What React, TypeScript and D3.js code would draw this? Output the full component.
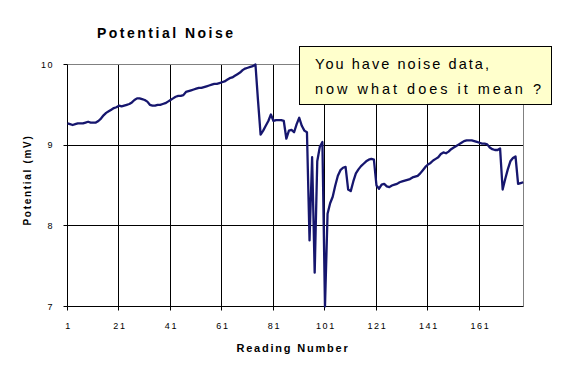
import React from "react";
import * as d3 from "d3";

const readings: number[] = d3.range(1, 179);
const potential: number[] = [
  9.27, 9.26, 9.25, 9.26, 9.27, 9.27, 9.27, 9.28, 9.29, 9.28,
  9.28, 9.28, 9.30, 9.33, 9.37, 9.40, 9.42, 9.44, 9.46, 9.47,
  9.49, 9.48, 9.49, 9.50, 9.51, 9.53, 9.56, 9.58, 9.58, 9.57,
  9.56, 9.54, 9.50, 9.49, 9.49, 9.50, 9.50, 9.51, 9.52, 9.54,
  9.56, 9.58, 9.60, 9.61, 9.61, 9.62, 9.66, 9.67, 9.68, 9.69,
  9.70, 9.71, 9.71, 9.72, 9.73, 9.74, 9.75, 9.76, 9.76, 9.77,
  9.78, 9.79, 9.81, 9.83, 9.84, 9.86, 9.88, 9.90, 9.93, 9.95,
  9.96, 9.97, 9.98, 10.0, 9.55, 9.13, 9.18, 9.24, 9.30, 9.38,
  9.30, 9.31, 9.31, 9.31, 9.30, 9.08, 9.18, 9.19, 9.16, 9.26,
  9.34, 9.24, 9.18, 9.16, 7.82, 8.85, 7.42, 8.80, 8.98, 9.04,
  7.0, 8.15, 8.28, 8.36, 8.50, 8.62, 8.69, 8.72, 8.73, 8.45,
  8.43, 8.55, 8.65, 8.70, 8.74, 8.77, 8.80, 8.82, 8.83, 8.82,
  8.50, 8.46, 8.51, 8.52, 8.49, 8.48, 8.50, 8.51, 8.52, 8.54,
  8.55, 8.56, 8.57, 8.58, 8.60, 8.61, 8.62, 8.65, 8.69, 8.73,
  8.76, 8.78, 8.81, 8.83, 8.85, 8.89, 8.91, 8.90, 8.92, 8.95,
  8.97, 8.99, 9.01, 9.03, 9.05, 9.06, 9.06, 9.06, 9.05, 9.04,
  9.03, 9.02, 9.02, 9.01, 8.97, 8.95, 8.94, 8.94, 8.96, 8.45,
  8.58, 8.70, 8.80, 8.84, 8.86, 8.52, 8.53, 8.54,
];
const xTicks: number[] = [1, 21, 41, 61, 81, 101, 121, 141, 161];
const yTicks: number[] = [7, 8, 9, 10];
const title = "Potential Noise";
const xTitle = "Reading Number";
const yTitle = "Potential (mV)";
const noteLines: string[] = ["You have noise data,", "now what does it mean ?"];
const noteWidths: number[] = [174, 226];

export default function App() {
  const left = 67.5, right = 523.5, top = 64.5, bottom = 306.5;
  const x = d3.scaleLinear().domain([1, 178.1]).range([left, right]);
  const y = d3.scaleLinear().domain([7, 10]).range([bottom, top]);
  const line = d3
    .line<number>()
    .x((_, i) => x(readings[i]))
    .y((d) => y(d));
  const font = "'Liberation Sans', Arial, sans-serif";
  const px = (v: number) => Math.round(v - 0.5) + 0.5;

  return (
    <svg
      width={564}
      height={380}
      style={{ position: "absolute", left: 0, top: 0, background: "#fff" }}
      fontFamily={font}
    >
      <rect x={0} y={0} width={564} height={380} fill="#fff" />
      {/* grid */}
      {xTicks.slice(1).map((t) => (
        <line key={"gx" + t} x1={px(x(t))} x2={px(x(t))} y1={top} y2={bottom} stroke="#000" strokeWidth={1} />
      ))}
      {yTicks.slice(1, -1).map((t) => (
        <line key={"gy" + t} x1={left} x2={right} y1={px(y(t))} y2={px(y(t))} stroke="#000" strokeWidth={1} />
      ))}
      {/* frame */}
      <line x1={left} x2={right} y1={top} y2={top} stroke="#808080" />
      <line x1={right} x2={right} y1={top} y2={bottom} stroke="#808080" />
      {/* axes */}
      <line x1={left} x2={left} y1={top} y2={bottom} stroke="#000" />
      <line x1={left} x2={right} y1={bottom} y2={bottom} stroke="#000" />
      {yTicks.map((t) => (
        <g key={"yt" + t}>
          <line x1={left - 4} x2={left} y1={px(y(t))} y2={px(y(t))} stroke="#000" />
          <text x={54} y={y(t) + 3} textAnchor="end" fontSize={9} letterSpacing={1.5}>
            {t}
          </text>
        </g>
      ))}
      {xTicks.map((t) => (
        <g key={"xt" + t}>
          <line x1={px(x(t))} x2={px(x(t))} y1={bottom} y2={bottom + 4} stroke="#000" />
          <text x={x(t) + 1} y={329} textAnchor="middle" fontSize={9} letterSpacing={1.7}>
            {t}
          </text>
        </g>
      ))}
      {/* data line */}
      <path d={line(potential) || ""} fill="none" stroke="#16166e" strokeWidth={2.3} strokeLinejoin="round" />
      {/* titles */}
      <text x={97} y={38} fontSize={14} fontWeight="bold" textLength={136} lengthAdjust="spacing">
        {title}
      </text>
      <text x={293} y={352} textAnchor="middle" fontSize={11} fontWeight="bold" letterSpacing={1.8}>
        {xTitle}
      </text>
      <text
        transform="translate(31,180) rotate(-90)"
        textAnchor="middle"
        fontSize={10}
        fontWeight="bold"
        letterSpacing={1.7}
      >
        {yTitle}
      </text>
      {/* note box */}
      <rect x={299.5} y={46.5} width={252} height={58} fill="#ffffcc" stroke="#000" strokeWidth={1} />
      {noteLines.map((s, i) => (
        <text key={s} x={315} y={69 + i * 25} fontSize={14.5} textLength={noteWidths[i]} lengthAdjust="spacing">
          {s}
        </text>
      ))}
    </svg>
  );
}
